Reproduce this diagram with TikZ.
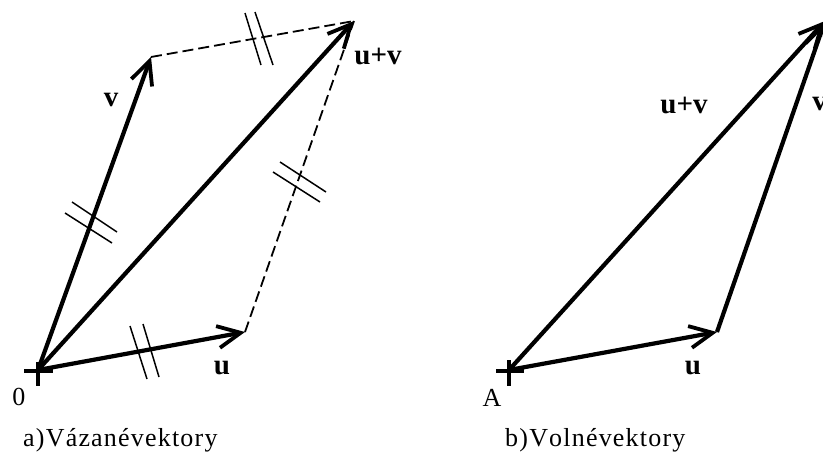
\documentclass[tikz,border=0pt]{standalone}
\usepackage{fontspec}
\setmainfont{Liberation Serif}
\usetikzlibrary{arrows.meta}
\tikzset{
  vec/.style={line width=4.2pt, -{Straight Barb[length=23pt,width=22pt,line width=3.8pt]}},
  dash line/.style={line width=1.8pt, dash pattern=on 11pt off 5pt},
  tickline/.style={line width=1.5pt},
  crossline/.style={line width=4.4pt},
  lab/.style={font=\fontsize{26}{26}\selectfont, inner sep=0pt},
  blab/.style={font=\fontsize{29}{29}\selectfont\bfseries, inner sep=0pt},
  captext/.style={font=\fontsize{26}{26}\selectfont, inner sep=0pt, anchor=base west}
}
\newcommand{\ks}{\kern1.2pt}
\begin{document}
\begin{tikzpicture}[x=1pt,y=-1pt]
\useasboundingbox (0,0) rectangle (823,455);
\clip (0,0) rectangle (823,455);
% left figure points
\coordinate (O) at (38,370);
\coordinate (U) at (245,332);
\coordinate (V) at (151,57);
\coordinate (S) at (354,21);
% right figure points
\coordinate (A) at (509,370);
\coordinate (U2) at (717,332);
\coordinate (S2) at (825,21);
% crosses
\draw[crossline] (24,371) -- (53,371);
\draw[crossline] (38,362) -- (38,386);
\draw[crossline] (496,371) -- (524,371);
\draw[crossline] (509,360) -- (509,386);
% left dashed
\draw[dash line] (V) -- (S);
\draw[dash line] (U) -- (S);
% left vectors
\draw[vec] (O) -- (U);
\draw[vec] (O) -- (V);
\draw[vec] (O) -- (S);
% ticks
\draw[tickline] (130,326) -- (147,379);
\draw[tickline] (143,324) -- (159,377);
\draw[tickline] (72,202) -- (117,232);
\draw[tickline] (65,213) -- (112,243);
\draw[tickline] (245,13) -- (261,65);
\draw[tickline] (255,12) -- (273,65);
\draw[tickline] (280,162) -- (326,192);
\draw[tickline] (273,172) -- (320,202);
% right vectors
\draw[vec] (A) -- (U2);
\draw[vec] (U2) -- (S2);
\draw[vec] (A) -- (S2);
% labels left
\node[blab] (lv) at (111,100) {v};
\node[blab] (luv) at (378,56) {u+v};
\node[blab] (lu) at (222,368) {u};
\node[lab] (l0) at (19,397) {0};
\node[captext] (capa) at (23,446) {a\ks)\ks V\ks á\ks z\ks a\ks n\ks é\ks v\ks e\ks k\ks t\ks o\ks r\ks y};
% labels right
\node[blab] (ruv) at (684,105) {u+v};
\node[blab] (rv) at (819.5,104) {v};
\node[blab] (ru) at (693,368) {u};
\node[lab] (rA) at (492,398) {A};
\node[captext] (capb) at (505,446) {b\ks)\ks V\ks o\ks l\ks n\ks é\ks v\ks e\ks k\ks t\ks o\ks r\ks y};
\end{tikzpicture}
\end{document}
